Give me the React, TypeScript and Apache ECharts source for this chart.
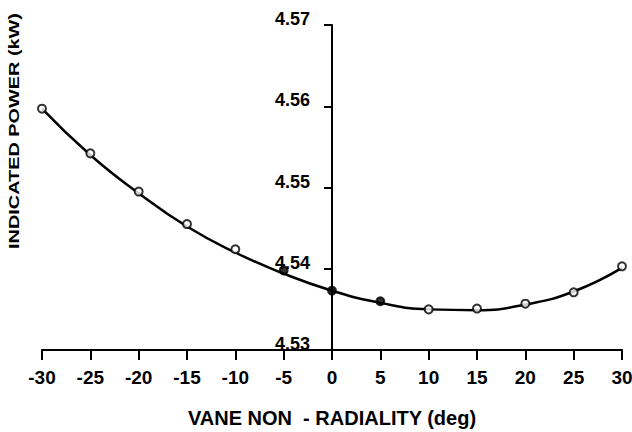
import React, { useEffect, useRef } from "react";
import * as echarts from "echarts";

const angles = [-30, -25, -20, -15, -10, -5, 0, 5, 10, 15, 20, 25, 30];
const measuredPower = [4.5597, 4.5542, 4.5495, 4.5455, 4.5424, 4.5398, 4.5373, 4.536, 4.535, 4.5351, 4.5357, 4.5371, 4.5403];
const filledPoints = [-5, 0, 5];
const fittedPower = [4.5597, 4.554, 4.5493, 4.5452, 4.542, 4.5394, 4.5373, 4.5358, 4.535, 4.5349, 4.5356, 4.5372, 4.5401];
const yTicks = [4.53, 4.54, 4.55, 4.56, 4.57];

const FONT = "'Liberation Sans', Arial, sans-serif";
const GRID_LEFT = 42;
const GRID_RIGHT = 10;
const WIDTH = 632;

export default function App() {
  const ref = useRef<HTMLDivElement>(null);
  useEffect(() => {
    const chart = echarts.init(ref.current!, null, { renderer: "svg" });
    const gridWidth = WIDTH - GRID_LEFT - GRID_RIGHT;
    chart.setOption({
      animation: false,
      backgroundColor: "#ffffff",
      grid: { left: GRID_LEFT, right: GRID_RIGHT, top: 25, bottom: 82, containLabel: false, outerBoundsMode: "none" },
      xAxis: {
        type: "value",
        min: -30,
        max: 30,
        interval: 5,
        name: "VANE NON  - RADIALITY (deg)",
        nameLocation: "middle",
        nameGap: 58,
        nameTextStyle: { color: "#000", fontSize: 20, fontWeight: "bold", fontFamily: FONT },
        axisLine: { onZero: false, lineStyle: { color: "#000", width: 2 } },
        axisTick: { show: true, length: 10, lineStyle: { color: "#000", width: 2 } },
        axisLabel: { color: "#000", fontSize: 19, fontWeight: "bold", fontFamily: FONT, margin: 18 },
        splitLine: { show: false },
      },
      yAxis: {
        type: "value",
        min: yTicks[0],
        max: yTicks[yTicks.length - 1],
        interval: 0.01,
        offset: -gridWidth / 2,
        axisLine: { onZero: false, lineStyle: { color: "#000", width: 2 } },
        axisTick: { show: true, length: 8, lineStyle: { color: "#000", width: 2 } },
        axisLabel: {
          color: "#000",
          fontSize: 18,
          fontWeight: "bold",
          fontFamily: FONT,
          margin: 22,
          verticalAlign: "bottom",
          lineHeight: 12,
          formatter: (v: number) => v.toFixed(2),
        },
        splitLine: { show: false },
      },
      graphic: [
        {
          type: "text",
          x: 14,
          y: 131,
          rotation: Math.PI / 2,
          scaleX: 1.42,
          style: {
            text: "INDICATED POWER (kW)",
            fill: "#000",
            font: "bold 14px 'Liberation Sans', Arial, sans-serif",
            textAlign: "center",
            textVerticalAlign: "middle",
          },
        },
      ],
      series: [
        {
          type: "line",
          data: angles.map((a, i) => [a, fittedPower[i]]),
          smooth: 0.5,
          showSymbol: false,
          lineStyle: { color: "#000", width: 2.5 },
          z: 2,
        },
        {
          type: "scatter",
          data: angles.map((a, i) => ({
            value: [a, measuredPower[i]],
            itemStyle: { color: filledPoints.includes(a) ? "#000" : "#fff" },
          })),
          symbol: "circle",
          symbolSize: 8,
          itemStyle: { color: "#fff", borderColor: "#000", borderWidth: 2 },
          z: 3,
        },
      ],
    });
    return () => chart.dispose();
  }, []);
  return <div ref={ref} style={{ position: "fixed", left: 0, top: 0, width: WIDTH, height: 432 }} />;
}
